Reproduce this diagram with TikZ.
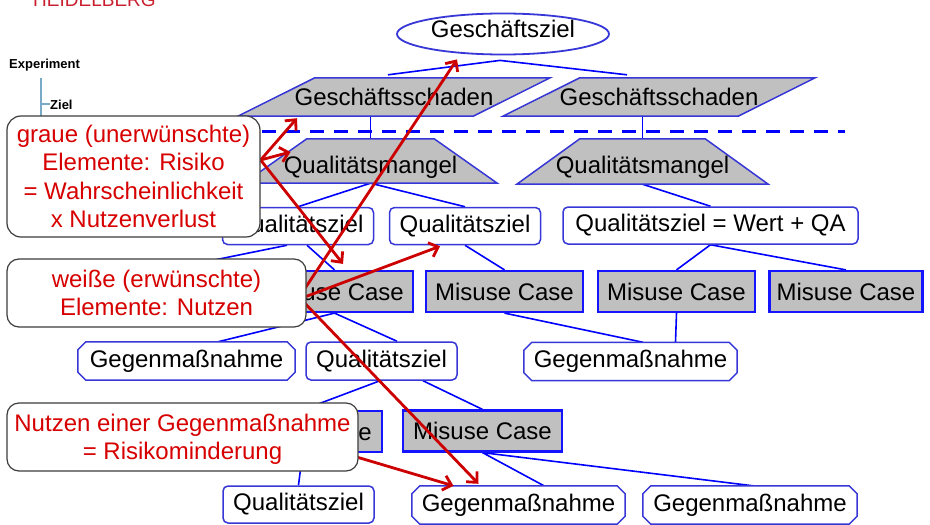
\documentclass[tikz,border=0pt]{standalone}
\usepackage{fontspec}
\setmainfont{Liberation Sans}
\usetikzlibrary{shapes.geometric,arrows.meta,calc}
\definecolor{nodeblue}{RGB}{55,55,215}
\definecolor{mcblue}{RGB}{20,20,255}
\definecolor{linkblue}{RGB}{0,0,255}
\definecolor{grayfill}{RGB}{192,192,192}
\definecolor{arrowred}{RGB}{204,0,0}
\definecolor{textred}{RGB}{215,0,0}
\definecolor{calloutgray}{RGB}{60,60,60}
\definecolor{treeblue}{RGB}{120,170,200}
\definecolor{unired}{RGB}{200,30,45}
\pgfdeclarelayer{bg}
\pgfdeclarelayer{shp}
\pgfdeclarelayer{arrowlayer}
\pgfdeclarelayer{front}
\pgfsetlayers{bg,shp,main,arrowlayer,front}
\begin{document}
\begin{tikzpicture}[x=1pt,y=-1pt,
  base/.style={font=\fontsize{24}{28}\selectfont, inner sep=0pt, text=black},
  goal/.style={base, ellipse, draw=nodeblue, line width=1.8pt, fill=white, minimum width=212pt, minimum height=38pt, text height=18pt, text depth=11pt},
  para/.style={base, minimum width=312pt, minimum height=38pt},
  trap/.style={base, minimum width=253pt, minimum height=44pt, text height=29pt, text depth=5pt},
  polyshape/.style={fill=grayfill, draw=nodeblue, line width=1.5pt, line join=miter},
  octshape/.style={fill=white, draw=nodeblue, line width=1.5pt, line join=miter},
  qgoal/.style={base, draw=nodeblue, line width=1.5pt, rounded corners=5pt, fill=white, minimum width=151pt, minimum height=37pt},
  misuse/.style={base, draw=mcblue, line width=2.2pt, fill=grayfill, minimum width=157pt, minimum height=41pt},
  counter/.style={base, minimum width=213pt, minimum height=38pt},
  link/.style={draw=linkblue, line width=1.6pt},
  sepline/.style={draw=linkblue, line width=3pt, dash pattern=on 14pt off 10pt},
  treeline/.style={draw=treeblue, line width=1.3pt},
  callout/.style={draw=calloutgray, line width=1.2pt, rounded corners=13pt, fill=white, text=textred, align=center, font=\fontsize{24}{28.5}\selectfont, inner sep=0pt},
  redarrow/.style={draw=arrowred, line width=2.8pt, -{Straight Barb[length=8pt,width=15pt]}},
  smalllabel/.style={anchor=base west, font=\bfseries\fontsize{13}{15}\selectfont, inner sep=0pt}
]
\useasboundingbox (0,0) rectangle (930,525);

% ---------- nodes ----------
\node[anchor=base west, text=unired, font=\fontsize{19}{20}\selectfont, inner sep=0pt] (hd) at (33,6) {HEIDELBERG};
\node[smalllabel] (exp) at (9,68) {Experiment};
\node[smalllabel] (ziel) at (50,109) {Ziel};

\node[goal] (gz) at (503,34) {Geschäftsziel};
\node[para] (gs1) at (394,97) {Geschäftsschaden};
\node[para] (gs2) at (659,97) {Geschäftsschaden};
\node[trap] (qm1) at (370.5,161) {Qualitätsmangel};
\node[trap, minimum width=251pt, minimum height=45pt] (qm2) at (642.5,161.5) {Qualitätsmangel};
\node[qgoal] (q1) at (298,226) {Qualitätsziel};
\node[qgoal] (q2) at (465,226) {Qualitätsziel};
\node[qgoal, minimum width=295pt] (q3) at (710.5,225.5) {Qualitätsziel = Wert + QA};
\node[misuse] (mc1) at (334.5,291.5) {Misuse Case};
\node[misuse] (mc2) at (504.5,291.5) {Misuse Case};
\node[misuse] (mc3) at (676.5,291.5) {Misuse Case};
\node[misuse, minimum width=153pt] (mc4) at (846,291.5) {Misuse Case};
\node[counter, minimum width=217pt] (g1) at (186.5,361) {Gegenmaßnahme};
\node[qgoal, minimum height=38pt] (q4) at (381.5,361) {Qualitätsziel};
\node[counter] (g2) at (630.5,361.5) {Gegenmaßnahme};
\node[misuse, minimum width=159pt] (mc5) at (302.5,431.5) {Misuse Case};
\node[misuse, minimum width=159pt] (mc6) at (482.5,431) {Misuse Case};
\node[qgoal] (q5) at (298.5,504.5) {Qualitätsziel};
\node[counter] (g3) at (518.5,505) {Gegenmaßnahme};
\node[counter, minimum width=214pt] (g4) at (750,505) {Gegenmaßnahme};

% ---------- outlines of gray polygons and octagons ----------
\begin{pgfonlayer}{shp}
\foreach \n in {gs1,gs2}
  \filldraw[polyshape] ([xshift=77pt]\n.north west) -- (\n.north east) -- ([xshift=-77pt]\n.south east) -- (\n.south west) -- cycle;
\foreach \n in {qm1,qm2}
  \filldraw[polyshape] (\n.south west) -- ([xshift=63pt]\n.north west) -- ([xshift=-63pt]\n.north east) -- (\n.south east) -- cycle;
\foreach \n in {g1,g2,g3,g4}
  \filldraw[octshape] ($(\n.north west)+(8,0)$) -- ($(\n.north east)+(-8,0)$) -- ($(\n.north east)+(0,8)$)
    -- ($(\n.south east)+(0,-8)$) -- ($(\n.south east)+(-8,0)$) -- ($(\n.south west)+(8,0)$)
    -- ($(\n.south west)+(0,-8)$) -- ($(\n.north west)+(0,8)$) -- cycle;
\end{pgfonlayer}

% ---------- connectors ----------
\begin{pgfonlayer}{bg}
\coordinate (j) at ($(gz.south)+(-3,5)$);
\draw[link] ($(gs1.north)+(-6,-3)$) -- (j) -- ($(gs2.north)+(-32,-3)$);
\draw[link] (qm1.north) -- (qm1.north |- gs1.south);
\draw[link] (qm2.north) -- (qm2.north |- gs2.south);
\draw[link] (q1.north) -- (qm1.south) -- (q2.north);
\draw[link] (qm2.south) -- (q3.north);
\coordinate (hid) at (160,271);
\draw[link] ($(q1.south)+(-11,0)$) -- (hid);
\draw[link] ($(q1.south)+(9,0)$) -- (mc1.north);
\draw[link] (q2.south) -- (mc2.north);
\draw[link] (mc3.north) -- (q3.south) -- (mc4.north);
\draw[link] ($(g1.north)+(31.5,0)$) -- (mc1.south) -- ($(q4.north)+(15.5,0)$);
\draw[link] (mc2.south) -- ($(g2.north)+(12.5,0)$);
\draw[link] (mc3.south) -- ($(g2.north)+(45,0)$);
\draw[link] (mc5.north) -- ($(q4.south)+(-1.5,0)$);
\draw[link] ($(q4.south)+(41.5,0)$) -- (mc6.north);
\draw[link] (mc5.south) -- (q5.north);
\draw[link] ($(g3.north)+(25.5,0)$) -- (mc6.south) -- ($(g4.north)+(3,0)$);
\coordinate (sepa) at (262,131);
\coordinate (sepb) at (845,131);
\draw[sepline] (sepa) -- (sepb);
\coordinate (tr1) at (41,78);
\coordinate (tr2) at (41,118);
\draw[treeline] (tr1) -- (tr2);
\draw[treeline] (41,104) -- (ziel.west |- 41,104);
\end{pgfonlayer}

% ---------- callouts ----------
\begin{pgfonlayer}{front}
\node[callout, rounded corners=14pt, minimum width=253pt, minimum height=121pt] (c1) at (133.5,176.5)
  {graue (unerwünschte)\\Elemente: Risiko\\= Wahrscheinlichkeit\\x Nutzenverlust};
\node[callout, rounded corners=12pt, minimum width=299pt, minimum height=68pt] (c2) at (156.5,293)
  {weiße (erwünschte)\\Elemente: Nutzen};
\node[callout, rounded corners=12pt, minimum width=351pt, minimum height=68pt, text depth=0pt] (c3) at (182.5,437)
  {Nutzen einer Gegenmaßnahme\\= Risikominderung};
\end{pgfonlayer}

% ---------- red arrows ----------
\begin{pgfonlayer}{arrowlayer}
\coordinate (o1) at ($(c1.east)+(0,-16.5)$);
\draw[redarrow] (o1) -- ($(gs1.south)+(-97,2)$);
\draw[redarrow] (o1) -- ($(qm1.center)+(-80,-9)$);
\draw[redarrow] (o1) -- ($(mc1.north)+(8.5,-6)$);
\coordinate (o2a) at ($(c2.east)+(-2,-4)$);
\coordinate (o2b) at ($(c2.east)+(-2,4)$);
\coordinate (o2c) at ($(c2.east)+(-2,10)$);
\draw[redarrow] (o2a) -- ($(gz.south)+(-46,4)$);
\draw[redarrow] (o2b) -- ($(q2.south)+(-25,1)$);
\draw[redarrow] (o2c) -- ($(g3.north)+(-40,-2)$);
\coordinate (o3) at ($(c3.east)+(-2,20)$);
\draw[redarrow] (o3) -- ($(g3.north)+(-65,0)$);
\end{pgfonlayer}
\end{tikzpicture}
\end{document}
